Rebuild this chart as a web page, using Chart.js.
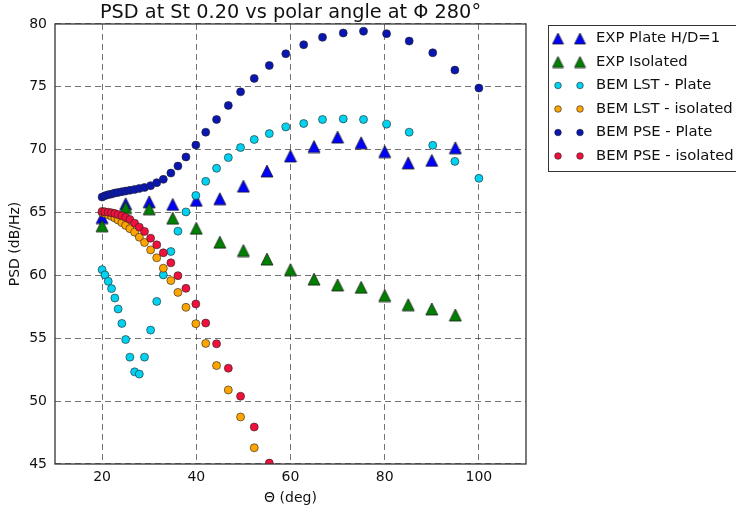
<!DOCTYPE html>
<html>
<head>
<meta charset="utf-8">
<script src="https://cdn.jsdelivr.net/npm/chart.js@4/dist/chart.umd.min.js"></script>
<style>
  html, body { margin: 0; padding: 0; background: #fff; }
  #wrap { width: 736px; height: 514px; position: relative; }
</style>
</head>
<body>
<div id="wrap"><canvas id="psd_canvas" width="736" height="514"></canvas></div>
<script>
// polar angles of the experiment and of the BEM runs (deg)
var exp_theta = [20, 25, 30, 35, 40, 45, 50, 55, 60, 65, 70, 75, 80, 85, 90, 95];
var bem_theta = [20.0, 20.6, 21.3, 22.0, 22.7, 23.4, 24.2, 25.0, 25.9, 26.9, 27.9, 29.0, 30.3, 31.6, 33.0,
    34.6, 36.1, 37.8, 39.9, 42.0, 44.3, 46.8, 49.4, 52.3, 55.5, 59.0, 62.8, 66.8, 71.2, 75.5,
    80.4, 85.2, 90.2, 94.9, 100.0];

// PSD values (dB/Hz)
var exp_plate = [64.6, 65.7, 65.85, 65.65, 65.97, 66.1, 67.1, 68.3, 69.5, 70.25, 71.0, 70.55, 69.85, 68.95, 69.15, 70.15];
var exp_isolated = [63.95, 65.4, 65.3, 64.55, 63.75, 62.64, 61.98, 61.3, 60.46, 59.7, 59.24, 59.05, 58.4, 57.67, 57.33, 56.85];
var lst_plate = [60.46, 60.04, 59.53, 58.95, 58.2, 57.33, 56.18, 54.9, 53.5, 52.33, 52.15, 53.5, 55.65, 57.93, 60.04,
    61.9, 63.52, 65.05, 66.36, 67.48, 68.52, 69.37, 70.17, 70.81, 71.28, 71.81, 72.08, 72.4, 72.45, 72.4,
    72.03, 71.39, 70.35, 69.07, 67.72];
var lst_isolated = [65.0, 64.92, 64.82, 64.7, 64.56, 64.4, 64.2, 63.98, 63.72, 63.44, 63.04, 62.62, 62.03, 61.4, 60.57,
    59.59, 58.65, 57.46, 56.16, 54.59, 52.83, 50.89, 48.74, 46.29];
var pse_plate = [66.23, 66.34, 66.42, 66.47, 66.55, 66.6, 66.66, 66.71, 66.77, 66.84, 66.92, 67.0, 67.14, 67.38, 67.64,
    68.14, 68.7, 69.42, 70.37, 71.39, 72.4, 73.52, 74.6, 75.67, 76.7, 77.63, 78.35, 78.94, 79.28, 79.42,
    79.23, 78.64, 77.71, 76.33, 74.9];
var pse_isolated = [65.09, 65.06, 65.03, 64.98, 64.92, 64.84, 64.74, 64.62, 64.45, 64.15, 63.84, 63.5, 62.96, 62.43, 61.8,
    61.0, 59.98, 58.97, 57.73, 56.21, 54.56, 52.62, 50.39, 47.94, 45.07];

var series_names = ['EXP Plate H/D=1', 'EXP Isolated', 'BEM LST - Plate', 'BEM LST - isolated', 'BEM PSE - Plate', 'BEM PSE - isolated'];
var x_ticks = [20, 40, 60, 80, 100];
var y_ticks = [45, 50, 55, 60, 65, 70, 75, 80];

var FONT = 'DejaVu Sans';

function pairs(xs, ys) {
    var out = [];
    for (var i = 0; i < ys.length; i++) out.push({ x: xs[i], y: ys[i] });
    return out;
}

// matplotlib-like "^" marker
function triangle(fill, size) {
    var c = document.createElement('canvas');
    c.width = size + 2;
    c.height = size + 2;
    var g = c.getContext('2d');
    g.beginPath();
    g.moveTo((size + 2) / 2, 1);
    g.lineTo(size + 1, size + 1);
    g.lineTo(1, size + 1);
    g.closePath();
    g.fillStyle = fill;
    g.fill();
    g.lineWidth = 0.8;
    g.strokeStyle = '#1a1a1a';
    g.stroke();
    return c;
}

var tri_blue = triangle('#0000ff', 12);
var tri_green = triangle('#008000', 12);
var tri_blue_s = triangle('#0000ff', 11);
var tri_green_s = triangle('#008000', 11);

var colors = ['#0000ff', '#008000', '#00d2f0', '#ffa500', '#0a16b0', '#f0103c'];

function circle_set(label, data, color, order) {
    return {
        label: label,
        data: data,
        pointStyle: 'circle',
        pointRadius: 4,
        backgroundColor: color,
        borderColor: '#222',
        borderWidth: 0.6,
        showLine: false,
        clip: 0,
        order: order
    };
}

var datasets = [
    { label: series_names[0], data: pairs(exp_theta, exp_plate), pointStyle: tri_blue, showLine: false, clip: 0, order: 5 },
    { label: series_names[1], data: pairs(exp_theta, exp_isolated), pointStyle: tri_green, showLine: false, clip: 0, order: 4 },
    circle_set(series_names[2], pairs(bem_theta, lst_plate), colors[2], 3),
    circle_set(series_names[3], pairs(bem_theta, lst_isolated), colors[3], 2),
    circle_set(series_names[4], pairs(bem_theta, pse_plate), colors[4], 1),
    circle_set(series_names[5], pairs(bem_theta, pse_isolated), colors[5], 0)
];

// frame round the axes + legend box on the right
var frame_legend = {
    id: 'frame_legend',
    afterDatasetsDraw: function (chart) {
        var ctx = chart.ctx, a = chart.chartArea;
        ctx.save();
        ctx.strokeStyle = '#333';
        ctx.lineWidth = 1.3;
        ctx.strokeRect(a.left, a.top, a.right - a.left, a.bottom - a.top);
        ctx.restore();
    },
    afterDraw: function (chart) {
        var ctx = chart.ctx;
        ctx.save();
        ctx.strokeStyle = '#333';
        ctx.lineWidth = 1;
        ctx.strokeRect(548.5, 25.5, 200, 146);
        ctx.font = '14.8px "' + FONT + '"';
        ctx.fillStyle = '#111';
        ctx.textBaseline = 'middle';
        for (var i = 0; i < series_names.length; i++) {
            var y = 38.5 + i * 23.5;
            var xs = [558, 580];
            for (var k = 0; k < 2; k++) {
                if (i < 2) {
                    var img = i === 0 ? tri_blue_s : tri_green_s;
                    ctx.drawImage(img, xs[k] - img.width / 2, y - img.height / 2);
                } else {
                    ctx.beginPath();
                    ctx.arc(xs[k], y, 3.3, 0, Math.PI * 2);
                    ctx.fillStyle = colors[i];
                    ctx.fill();
                    ctx.lineWidth = 0.6;
                    ctx.strokeStyle = '#222';
                    ctx.stroke();
                }
            }
            ctx.fillStyle = '#111';
            ctx.fillText(series_names[i], 596, y);
        }
        ctx.restore();
    }
};

new Chart(document.getElementById('psd_canvas'), {
    type: 'scatter',
    data: { datasets: datasets },
    plugins: [frame_legend],
    options: {
        responsive: false,
        animation: false,
        layout: { padding: { left: 0, right: 210, top: 0, bottom: 0 } },
        plugins: {
            legend: { display: false },
            tooltip: { enabled: false },
            title: {
                display: true,
                text: 'PSD at St 0.20 vs polar angle at \u03A6 280\u00B0',
                font: { family: FONT, size: 19.3, weight: 'normal', lineHeight: 1.05 },
                color: '#111',
                padding: { top: 3, bottom: 0.7 },
                fullSize: false
            }
        },
        scales: {
            x: {
                type: 'linear',
                min: 10,
                max: 110,
                afterBuildTicks: function (s) { s.ticks = x_ticks.map(function (v) { return { value: v }; }); },
                afterFit: function (s) { s.height = 50; },
                ticks: { font: { family: FONT, size: 14 }, color: '#111', padding: 5, maxRotation: 0 },
                grid: { color: 'rgba(0,0,0,0.55)', lineWidth: 1, drawTicks: false },
                border: { display: false, dash: [6, 4] },
                title: {
                    display: true,
                    text: '\u0398 (deg)',
                    font: { family: FONT, size: 14 },
                    color: '#111',
                    padding: { top: 0, bottom: 7.6 }
                }
            },
            y: {
                type: 'linear',
                min: 45,
                max: 80,
                afterBuildTicks: function (s) { s.ticks = y_ticks.map(function (v) { return { value: v }; }); },
                afterFit: function (s) { s.width = 55; },
                ticks: { font: { family: FONT, size: 14 }, color: '#111', padding: 8 },
                grid: { color: 'rgba(0,0,0,0.55)', lineWidth: 1, drawTicks: false },
                border: { display: false, dash: [6, 4] },
                title: {
                    display: true,
                    text: 'PSD (dB/Hz)',
                    font: { family: FONT, size: 14 },
                    color: '#111',
                    padding: { top: 6.6, bottom: 0 }
                }
            }
        }
    }
});
</script>
</body>
</html>
